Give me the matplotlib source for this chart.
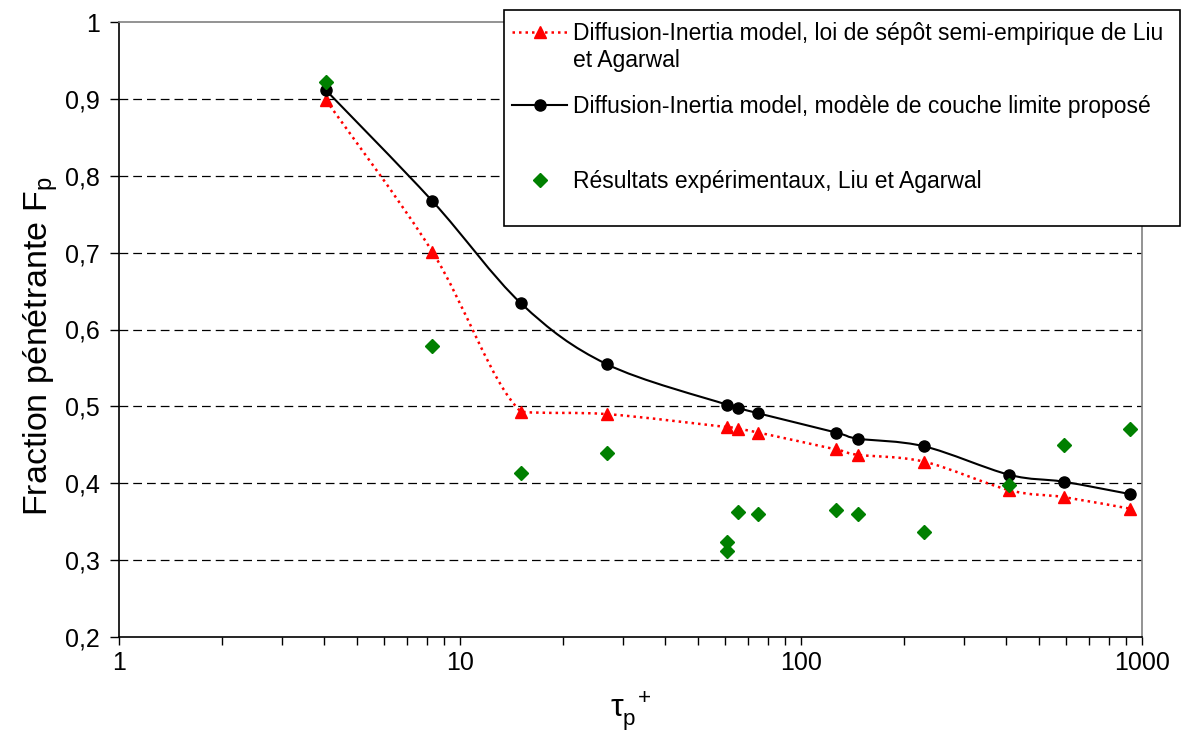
import numpy as np
import matplotlib
matplotlib.use("Agg")
import matplotlib.pyplot as plt
from matplotlib.path import Path
from matplotlib.patches import PathPatch, Rectangle
from matplotlib.lines import Line2D
from matplotlib.ticker import FixedLocator, FuncFormatter, LogLocator, NullFormatter

plt.rcParams['font.family'] = ['Liberation Sans', 'DejaVu Sans']
plt.rcParams['mathtext.default'] = 'regular'

# tau_p+ values of the model points
tau_model = [4.05, 8.3, 15.1, 26.9, 60.8, 65.3, 74.9, 126.6, 146.9, 230, 408, 589, 920]
# model 1: Liu & Agarwal semi-empirical deposition law
fp_liu = [0.898, 0.701, 0.493, 0.490, 0.473, 0.471, 0.466, 0.444, 0.437, 0.428, 0.391, 0.382, 0.367]
# model 2: proposed boundary-layer model
fp_bl = [0.911, 0.767, 0.634, 0.555, 0.502, 0.498, 0.491, 0.466, 0.458, 0.448, 0.411, 0.402, 0.386]
# experimental results
tau_exp = [4.05, 8.3, 15.1, 26.9, 60.8, 60.8, 65.3, 74.9, 126.6, 146.9, 230, 408, 589, 920]
fp_exp = [0.922, 0.579, 0.413, 0.440, 0.323, 0.312, 0.363, 0.360, 0.365, 0.360, 0.337, 0.398, 0.450, 0.470]

y_ticks = [0.2, 0.3, 0.4, 0.5, 0.6, 0.7, 0.8, 0.9, 1.0]
x_ticks = [1, 10, 100, 1000]

lab_liu = "Diffusion-Inertia model, loi de sépôt semi-empirique de Liu\net Agarwal"
lab_bl = "Diffusion-Inertia model, modèle de couche limite proposé"
lab_exp = "Résultats expérimentaux, Liu et Agarwal"

W, H = 1185, 736


def smooth_path(xs, ys):
    # Excel-like smoothed line: Catmull-Rom bezier in (log x, y),
    # control points kept inside each segment's y range (no overshoot)
    lx = np.log10(np.asarray(xs, float))
    y = np.asarray(ys, float)
    n = len(lx)
    verts = [(lx[0], y[0])]
    codes = [Path.MOVETO]
    for i in range(n - 1):
        a = max(i - 1, 0)
        b = min(i + 2, n - 1)
        lo, hi = min(y[i], y[i + 1]), max(y[i], y[i + 1])
        c1 = (lx[i] + (lx[i + 1] - lx[a]) / 6,
              np.clip(y[i] + (y[i + 1] - y[a]) / 6, lo, hi))
        c2 = (lx[i + 1] - (lx[b] - lx[i]) / 6,
              np.clip(y[i + 1] - (y[b] - y[i]) / 6, lo, hi))
        verts += [c1, c2, (lx[i + 1], y[i + 1])]
        codes += [Path.CURVE4] * 3
    verts = np.array(verts)
    verts[:, 0] = 10 ** verts[:, 0]
    return Path(verts, codes)


fig = plt.figure(figsize=(W / 100, H / 100), dpi=100)
ax = fig.add_axes([119 / W, 99 / H, 1023 / W, 615 / H])
ax.set_xscale('log')
ax.set_xlim(1, 1000)
ax.set_ylim(0.2, 1.0)

red_dots = (0, (1, 1.6))
ax.add_patch(PathPatch(smooth_path(tau_model, fp_liu), fill=False, edgecolor='red',
                       lw=1.8, linestyle=red_dots, zorder=3))
ax.add_patch(PathPatch(smooth_path(tau_model, fp_bl), fill=False, edgecolor='black',
                       lw=1.5, zorder=3))
ax.plot(tau_model, fp_liu, ls='none', marker='^', ms=9, color='red', zorder=4)
ax.plot(tau_model, fp_bl, ls='none', marker='o', ms=8, color='black', zorder=4)
ax.plot(tau_exp, fp_exp, ls='none', marker='D', ms=7, color='#008000', zorder=5)

# axes styling (Excel look)
for s in ['top', 'right']:
    ax.spines[s].set_color('#808080')
for s in ['left', 'bottom']:
    ax.spines[s].set_color('black')
for s in ax.spines.values():
    s.set_linewidth(1.2)

ax.yaxis.set_major_locator(FixedLocator(y_ticks))
ax.yaxis.set_major_formatter(FuncFormatter(lambda v, p: ('%g' % round(v, 1)).replace('.', ',')))
ax.xaxis.set_major_locator(FixedLocator(x_ticks))
ax.xaxis.set_major_formatter(FuncFormatter(lambda v, p: '%d' % v))
ax.xaxis.set_minor_locator(LogLocator(base=10, subs=np.arange(2, 10)))
ax.xaxis.set_minor_formatter(NullFormatter())

ax.tick_params(axis='y', which='major', direction='out', length=6.5, width=1,
               labelsize=18, pad=7, right=False)
ax.tick_params(axis='x', which='both', direction='out', length=6, width=1,
               labelsize=18, pad=4, top=False)

ax.grid(axis='y', color='black', lw=0.9, linestyle=(0, (7, 4)))
ax.set_axisbelow(True)
yt = ax.yaxis.get_major_ticks()
yt[0].gridline.set_visible(False)
yt[-1].gridline.set_visible(False)

ax.set_ylabel('Fraction pénétrante F$_p$', fontsize=24.5)
ax.yaxis.set_label_coords(-0.058, 0.473)
ax.set_xlabel(r'$\tau_p^{\;\,+}$', fontsize=23, labelpad=11)

# legend box, drawn by hand to follow the Excel layout
fig.add_artist(Rectangle((504 / W, 1 - 226 / H), 676 / W, 216 / H, transform=fig.transFigure,
                         facecolor='white', edgecolor='black', lw=1.2, zorder=10))
entries = [
    (lab_liu, dict(color='red', lw=1.8, ls=red_dots), dict(marker='^', ms=9, color='red'), 32, 67),
    (lab_bl, dict(color='black', lw=1.5), dict(marker='o', ms=8, color='black'), 105, 113),
    (lab_exp, None, dict(marker='D', ms=7, color='#008000'), 180, 188),
]
for label, line_kw, mark_kw, yc, ybase in entries:
    yf = 1 - yc / H
    if line_kw:
        fig.add_artist(Line2D([512 / W, 567 / W], [yf, yf], transform=fig.transFigure,
                              zorder=11, **line_kw))
    fig.add_artist(Line2D([540 / W], [yf], transform=fig.transFigure, ls='none',
                          zorder=12, **mark_kw))
    fig.text(573 / W, 1 - ybase / H, label, fontsize=16.5, va='baseline', ha='left',
             linespacing=1.2, zorder=12)

fig.savefig('out.png', dpi=100)
